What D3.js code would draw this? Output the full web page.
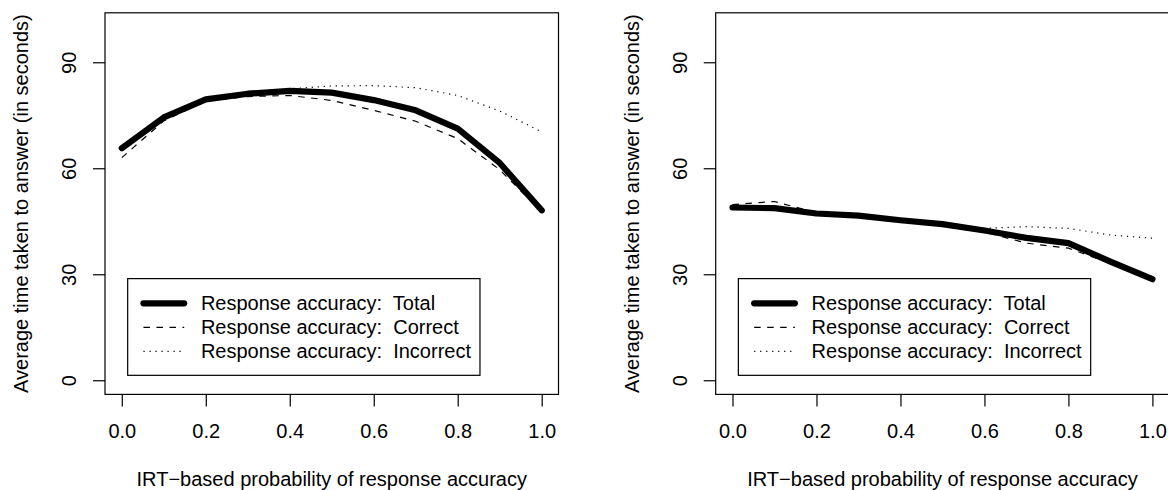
<!DOCTYPE html>
<html>
<head>
<meta charset="utf-8">
<script src="https://cdn.jsdelivr.net/npm/d3@7"></script>
<style>
  html, body { margin: 0; padding: 0; background: #fff; }
  svg { display: block; font-family: "Liberation Sans", Arial, Helvetica, sans-serif; }
  text { white-space: pre; }
</style>
</head>
<body>
<svg id="chart" width="1168" height="490"></svg>
<script>
// Values (x = IRT-based probability)
const probs = [0, 0.1, 0.2, 0.3, 0.4, 0.5, 0.6, 0.7, 0.8, 0.9, 1.0];

const leftTotal     = [65.7, 74.4, 79.5, 81.1, 81.9, 81.4, 79.3, 76.4, 71.2, 61.5, 48.1];
const leftCorrect   = [63.0, 73.4, 79.0, 80.3, 80.6, 79.2, 76.4, 73.3, 68.4, 59.6, 47.6];
const leftIncorrect = [66.0, 74.6, 79.6, 81.2, 82.5, 83.3, 83.4, 82.8, 80.6, 76.2, 70.3];

const rightTotal     = [48.9, 48.7, 47.2, 46.6, 45.3, 44.2, 42.4, 40.3, 38.8, 33.6, 28.6];
const rightCorrect   = [49.7, 50.6, 47.4, 46.4, 45.1, 44.0, 42.0, 38.8, 37.4, 33.0, 28.4];
const rightIncorrect = [48.6, 48.4, 47.0, 46.4, 45.2, 44.1, 43.0, 43.5, 43.0, 41.1, 40.2];

const xTicks = [0, 0.2, 0.4, 0.6, 0.8, 1.0];
const yTicks = [0, 30, 60, 90];
const legendLabels = ["Response accuracy:  Total", "Response accuracy:  Correct", "Response accuracy:  Incorrect"];
const xTitle = "IRT\u2212based probability of response accuracy";
const yTitle = "Average time taken to answer (in seconds)";

const svg = d3.select("#chart");
const fontSize = 20;
const lineH = 24;          // one margin line in R units
const tickLen = 12;

// line styles for the three series: thick solid, dashed, dotted
const styles = [
  { width: 6.2, dash: null },
  { width: 1.2, dash: "6.5,6.5" },
  { width: 1.2, dash: "1.2,4.8" }
];

const panels = [
  { offset: 0,     series: [leftCorrect, leftIncorrect, leftTotal] },
  { offset: 610.7, series: [rightCorrect, rightIncorrect, rightTotal] }
];

panels.forEach(p => {
  const boxL = 105 + p.offset, boxR = 558.5 + p.offset;
  const boxT = 12.8, boxB = 394.4;

  const x = d3.scaleLinear().domain([-0.04, 1.04]).range([boxL, boxR]);
  const y = d3.scaleLinear().domain([-4, 104]).range([boxB, boxT]);

  const g = svg.append("g");

  // plot box
  g.append("rect")
    .attr("x", boxL).attr("y", boxT)
    .attr("width", boxR - boxL).attr("height", boxB - boxT)
    .attr("fill", "none").attr("stroke", "#000").attr("stroke-width", 1.2);

  // x axis
  const ax = g.append("g")
    .attr("transform", `translate(0,${boxB})`)
    .call(d3.axisBottom(x).tickValues(xTicks).tickSize(tickLen).tickSizeOuter(0)
      .tickFormat(d3.format(".1f")));
  ax.select(".domain").remove();
  ax.selectAll(".tick line").attr("stroke-width", 1.2);
  ax.selectAll("text")
    .attr("y", 1.8 * lineH).attr("dy", null)
    .attr("font-size", fontSize).attr("fill", "#000");
  ax.attr("font-family", null);

  // y axis, labels parallel to the axis
  const ay = g.append("g")
    .attr("transform", `translate(${boxL},0)`)
    .call(d3.axisLeft(y).tickValues(yTicks).tickSize(tickLen).tickSizeOuter(0));
  ay.select(".domain").remove();
  ay.selectAll(".tick line").attr("stroke-width", 1.2);
  ay.selectAll("text")
    .attr("x", null).attr("dy", null)
    .attr("text-anchor", "middle")
    .attr("transform", `translate(${-1.2 * lineH},0) rotate(-90)`)
    .attr("font-size", fontSize).attr("fill", "#000");
  ay.attr("font-family", null);

  // axis titles
  g.append("text")
    .attr("x", (boxL + boxR) / 2).attr("y", boxB + 3.8 * lineH)
    .attr("text-anchor", "middle").attr("font-size", fontSize)
    .text(xTitle);
  g.append("text")
    .attr("transform", `translate(${boxL - 3.2 * lineH},${(boxT + boxB) / 2}) rotate(-90)`)
    .attr("text-anchor", "middle").attr("font-size", fontSize)
    .text(yTitle);

  // series lines (correct, incorrect, then total on top)
  const line = d3.line().x(d => x(d[0])).y(d => y(d[1]));
  const order = [1, 2, 0];
  p.series.forEach((vals, i) => {
    const s = styles[order[i]];
    g.append("path")
      .datum(probs.map((pr, k) => [pr, vals[k]]))
      .attr("d", line)
      .attr("fill", "none")
      .attr("stroke", "#000")
      .attr("stroke-width", s.width)
      .attr("stroke-linecap", s.dash ? "butt" : "round")
      .attr("stroke-linejoin", "round")
      .attr("stroke-dasharray", s.dash);
  });

  // legend, bottom-left with 5% inset
  const legL = boxL + 0.05 * (boxR - boxL);
  const legB = boxB - 0.05 * (boxB - boxT);
  const legW = 352.3, legH = 96.7;
  const leg = g.append("g");
  leg.append("rect")
    .attr("x", legL).attr("y", legB - legH)
    .attr("width", legW).attr("height", legH)
    .attr("fill", "#fff").attr("stroke", "#000").attr("stroke-width", 1.2);
  legendLabels.forEach((lab, i) => {
    const cy = legB - legH + 24.7 + i * lineH;
    const s = styles[i];
    leg.append("line")
      .attr("x1", legL + 15.8).attr("x2", legL + 56.5)
      .attr("y1", cy).attr("y2", cy)
      .attr("stroke", "#000")
      .attr("stroke-width", s.width)
      .attr("stroke-linecap", s.dash ? "butt" : "round")
      .attr("stroke-dasharray", s.dash);
    leg.append("text")
      .attr("x", legL + 73.2).attr("y", cy + 0.35 * fontSize)
      .attr("font-size", fontSize)
      .text(lab);
  });
});
</script>
</body>
</html>
